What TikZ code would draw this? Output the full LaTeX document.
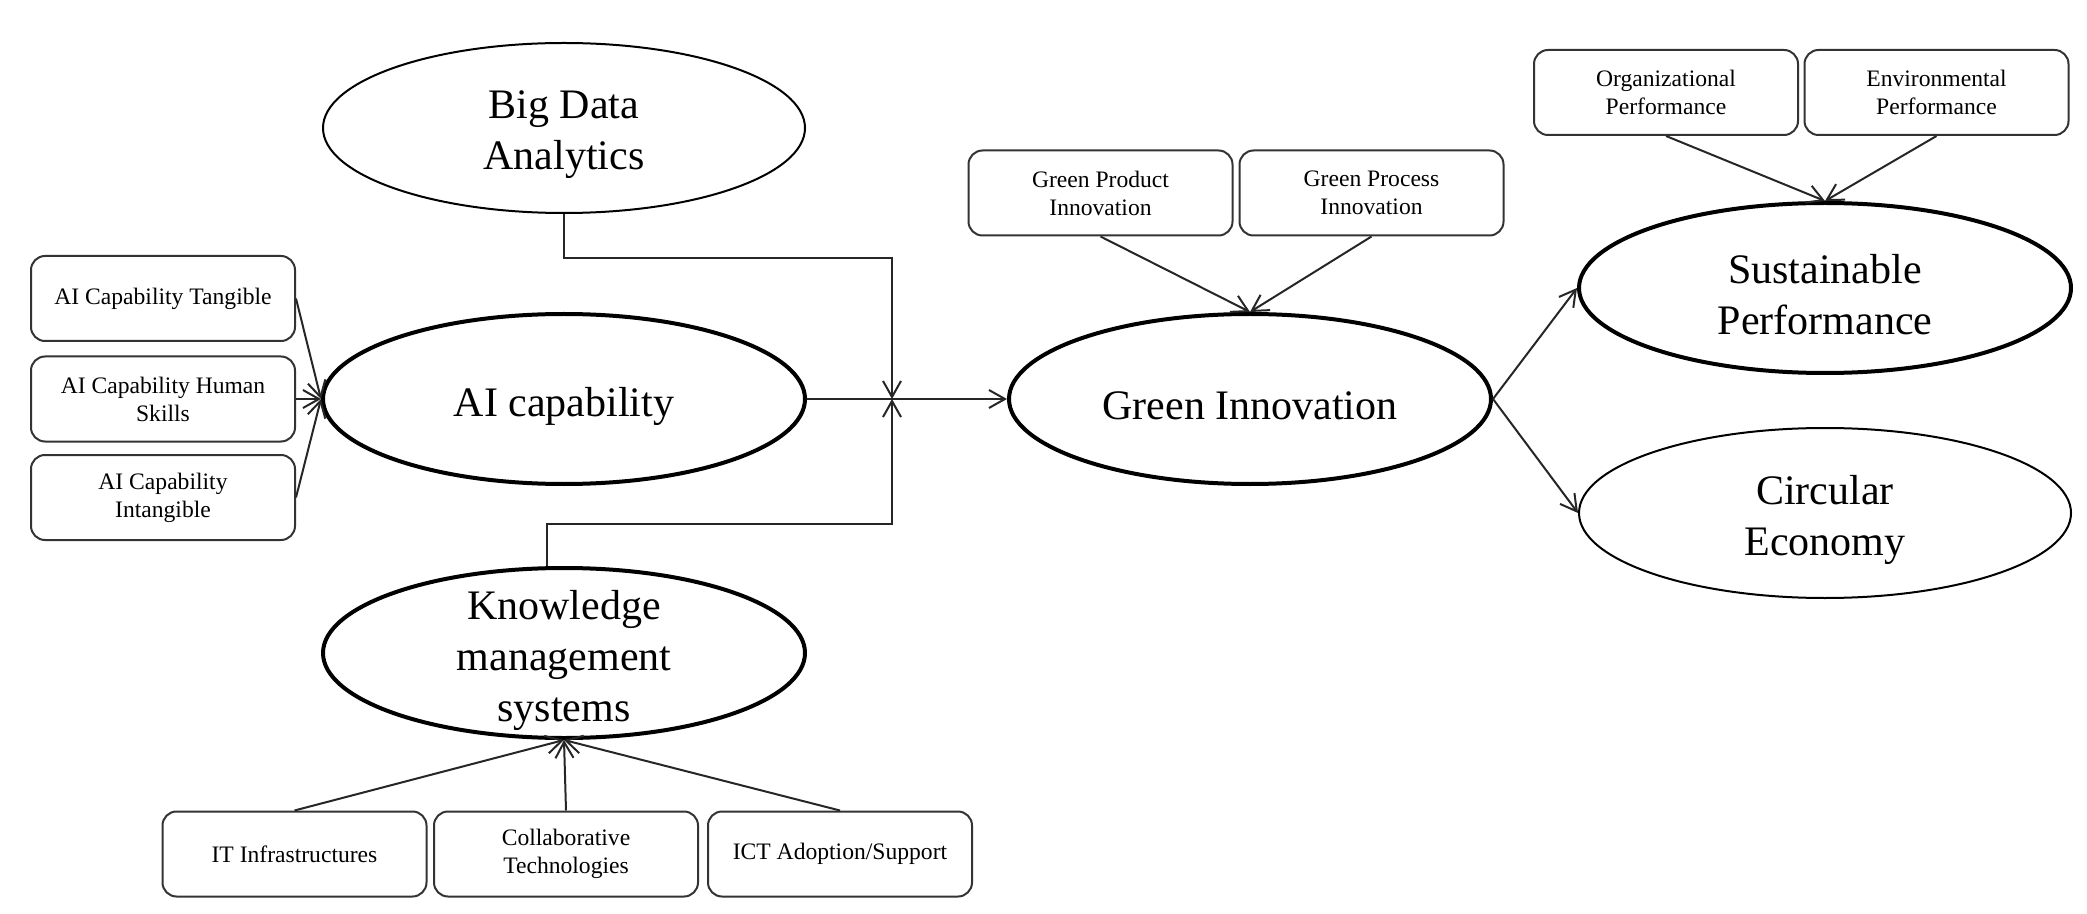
\documentclass[tikz,border=0pt]{standalone}
\usepackage{fontspec}
\setmainfont{Liberation Serif}
\usetikzlibrary{shapes.geometric,arrows.meta}

\tikzset{
  oval/.style={ellipse, draw=black, line width=1pt, inner sep=0pt,
    minimum width=241pt, minimum height=85pt},
  thickoval/.style={oval, line width=2pt},
  ovaltext/.style={align=center, inner sep=0pt, yshift=-3.5pt,
    font=\fontsize{21}{25.5}\selectfont},
  dimbox/.style={draw=black!80, line width=1pt, rounded corners=7pt,
    minimum width=132pt, minimum height=42.5pt, inner sep=2pt,
    align=center, font=\fontsize{11.8}{14}\selectfont},
  link/.style={draw=black!85, line width=1pt},
  flow/.style={link, -{Straight Barb[length=8pt,width=9pt]}}
}

\begin{document}
\begin{tikzpicture}[x=0.5pt, y=-0.5pt]
        \useasboundingbox (0,0) rectangle (2087,914);

        % Main constructs (ellipses)
        \node[oval] (bda) at (564,128) {};
        \node[ovaltext] (bda-t) at (bda) {Big Data\\Analytics};
        \node[thickoval] (ai) at (564,399) {};
        \node[ovaltext] (ai-t) at (ai) {AI capability};
        \node[thickoval] (kms) at (564,653) {};
        \node[ovaltext] (kms-t) at (kms) {Knowledge\\management\\systems};
        \node[thickoval] (gi) at (1250,399) {};
        \node[ovaltext] (gi-t) at (gi) {Green Innovation};
        \node[thickoval, minimum width=246pt] (sp) at (1825,288) {};
        \node[ovaltext] (sp-t) at (sp) {Sustainable\\Performance};
        \node[oval, minimum width=246pt] (ce) at (1825,513) {};
        \node[ovaltext] (ce-t) at (ce) {Circular\\Economy};

        % Dimensions of AI capability
        \node[dimbox] (tan) at (163,298.5) {AI Capability Tangible};
        \node[dimbox] (hum) at (163,399) {AI Capability Human\\Skills};
        \node[dimbox] (int) at (163,497.5) {AI Capability\\Intangible};

        % Dimensions of green innovation
        \node[dimbox] (gpd) at (1100.5,193) {Green Product\\Innovation};
        \node[dimbox] (gpc) at (1371.5,193) {Green Process\\Innovation};

        % Dimensions of sustainable performance
        \node[dimbox] (orp) at (1666,92.5) {Organizational\\Performance};
        \node[dimbox] (enp) at (1936.5,92.5) {Environmental\\Performance};

        % Dimensions of knowledge management
        \node[dimbox] (itf) at (294.5,854) {IT Infrastructures};
        \node[dimbox] (col) at (566,854) {Collaborative\\Technologies};
        \node[dimbox] (ict) at (840,854) {ICT Adoption/Support};

        % Arrows from dimensions to constructs
        \foreach \b in {tan,hum,int} \draw[flow] (\b.east) -- (ai.west);
        \foreach \b in {gpd,gpc} \draw[flow] (\b.south) -- (gi.north);
        \foreach \b in {orp,enp} \draw[flow] (\b.south) -- (sp.north);
        \foreach \b in {itf,col,ict} \draw[flow] (\b.north) -- (kms.south);

        % Moderating paths meeting the main path
        \coordinate (jn) at (892,399);
        \coordinate (upknee) at (892,258);
        \coordinate (lowknee) at (892,524);
        \draw[flow] (bda.south) |- (upknee) -- (jn);
        \draw[flow] (kms.101) |- (lowknee) -- (jn);

        % Main paths
        \draw[flow] (ai.east) -- (gi.west);
        \draw[flow] (gi.east) -- (sp.west);
        \draw[flow] (gi.east) -- (ce.west);
    \end{tikzpicture}
\end{document}
